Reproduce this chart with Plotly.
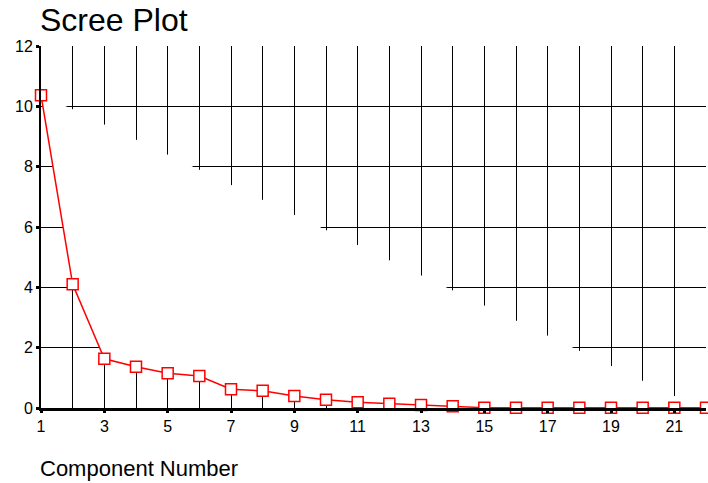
import plotly.graph_objects as go

components = list(range(1, 23))
eigenvalues = [10.37, 4.10, 1.63, 1.37, 1.15, 1.06, 0.62, 0.57, 0.40, 0.27,
               0.19, 0.14, 0.10, 0.06, 0.01, 0.01, 0.01, 0.01, 0.01, 0.01,
               0.01, 0.01]
# upper edge of the white mask region seen in the picture
mask_upper = [10.37, 9.9, 9.4, 8.9, 8.4, 7.9, 7.4, 6.9, 6.4, 5.9, 5.4, 4.9,
              4.4, 3.9, 3.4, 2.9, 2.4, 1.9, 1.4, 0.9, 0.4, -0.1]
x_ticks = [1, 3, 5, 7, 9, 11, 13, 15, 17, 19, 21]
y_ticks = [0, 2, 4, 6, 8, 10, 12]

FONT = "Liberation Sans, Arial, sans-serif"

W, H = 708, 483
L, T, R, B = 41, 46, 2, 75
PH = H - T - B

fig = go.Figure()
fig.add_trace(go.Scatter(x=components, y=mask_upper, mode="lines",
                         line=dict(width=0, color="white"),
                         hoverinfo="skip", showlegend=False))
fig.add_trace(go.Scatter(x=components, y=eigenvalues, mode="lines+markers",
                         fill="tonexty", fillcolor="white",
                         line=dict(color="#ff0000", width=1.5),
                         marker=dict(symbol="square", size=11, color="white",
                                     line=dict(color="#ff0000", width=1.5)),
                         cliponaxis=False, showlegend=False))

fig.update_layout(
    width=W, height=H,
    margin=dict(l=L, r=R, t=T, b=B),
    paper_bgcolor="white", plot_bgcolor="white",
    showlegend=False,
    font=dict(family=FONT, color="black"),
    xaxis=dict(range=[1, 22], tickvals=x_ticks, ticktext=[str(v) for v in x_ticks],
               showgrid=False,
               minor=dict(tickvals=components, showgrid=True, gridcolor="black",
                          gridwidth=1.2, ticks=""),
               showline=True, linecolor="black", linewidth=3,
               ticks="outside", ticklen=2, tickwidth=3, tickcolor="black",
               tickfont=dict(size=16, family=FONT, color="black"),
               zeroline=False, fixedrange=True),
    yaxis=dict(range=[0, 12], tickvals=y_ticks, showgrid=True,
               gridcolor="black", gridwidth=1.2,
               showline=True, linecolor="black", linewidth=2,
               ticks="outside", ticklen=3, tickwidth=3, tickcolor="black",
               tickfont=dict(size=16, family=FONT, color="black"),
               zeroline=False, fixedrange=True),
    annotations=[
        dict(text="Scree Plot", xref="paper", yref="paper", x=0, y=1 + T / PH,
             xanchor="left", yanchor="top", xshift=-3, showarrow=False,
             font=dict(size=32, family=FONT, color="black")),
        dict(text="Component Number", xref="paper", yref="paper", x=0,
             y=-60 / PH, xanchor="left", yanchor="middle", xshift=-3, showarrow=False,
             font=dict(size=22, family=FONT, color="black")),
    ],
)

fig.write_html("out.html", config={"displayModeBar": False},
               post_script="document.body.style.margin='0';")
